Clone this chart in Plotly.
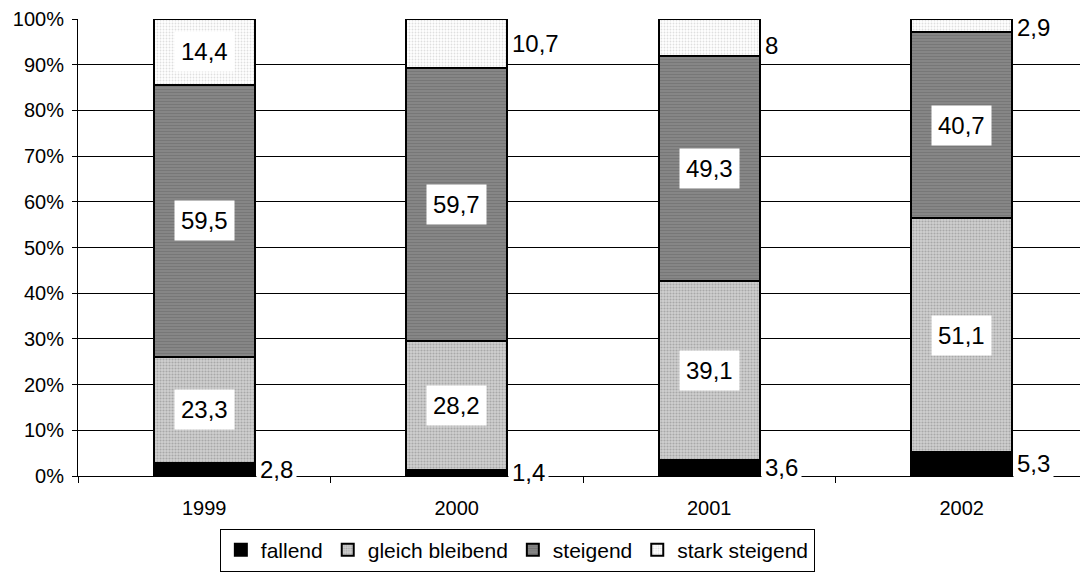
import plotly.graph_objects as go

years = ["1999", "2000", "2001", "2002"]
fallend = [2.8, 1.4, 3.6, 5.3]
gleich = [23.3, 28.2, 39.1, 51.1]
steigend = [59.5, 59.7, 49.3, 40.7]
stark = [14.4, 10.7, 8.0, 2.9]
series_names = ["fallend", "gleich bleibend", "steigend", "stark steigend"]
tick_vals = [0, 10, 20, 30, 40, 50, 60, 70, 80, 90, 100]
tick_text = [f"{v}%" for v in tick_vals]

FONT = "Liberation Sans, Arial, sans-serif"

def fmt(v):
    s = f"{v:.1f}".replace(".", ",")
    if s.endswith(",0"):
        s = s[:-2]
    return s

styles = [
    dict(color="#000000", pattern=None),
    dict(color="#c0c0c0", pattern=dict(shape=".", bgcolor="#d0d0d0", fgcolor="#808080", size=3, solidity=0.4)),
    dict(color="#808080", pattern=dict(shape="-", bgcolor="#888888", fgcolor="#666666", size=3, solidity=0.4)),
    dict(color="#f4f4f4", pattern=dict(shape=".", bgcolor="#ffffff", fgcolor="#c0c0c0", size=3, solidity=0.3)),
]

fig = go.Figure()
data = [fallend, gleich, steigend, stark]
for name, vals, st in zip(series_names, data, styles):
    marker = dict(color=st["color"], line=dict(color="#000000", width=2))
    if st["pattern"]:
        marker["pattern"] = st["pattern"]
    fig.add_trace(go.Bar(x=years, y=vals, name=name, marker=marker))

bar_half = 0.2
annotations = []
placement = [
    ["out", "out", "out", "out"],
    ["in", "in", "in", "in"],
    ["in", "in", "in", "in"],
    ["in", "out", "out", "out"],
]
yshift_out = [
    [0, 0, 0, 0],
    [0, 0, 0, 0],
    [0, 0, 0, 0],
    [0, 0, -8, -2],
]
for si, vals in enumerate(data):
    for ci, v in enumerate(vals):
        base = sum(data[k][ci] for k in range(si))
        yc = base + v / 2
        if placement[si][ci] == "in":
            annotations.append(dict(x=ci, y=yc, xref="x", yref="y", text=fmt(v),
                                    showarrow=False, bgcolor="#ffffff",
                                    font=dict(family=FONT, size=24, color="#000"),
                                    borderpad=6))
        else:
            annotations.append(dict(x=ci + bar_half, y=yc, xref="x", yref="y", text=fmt(v),
                                    showarrow=False, bgcolor="#ffffff", xanchor="left",
                                    yshift=yshift_out[si][ci], xshift=1,
                                    font=dict(family=FONT, size=24, color="#000"),
                                    borderpad=3))

fig.update_layout(
    barmode="stack",
    bargap=0.6,
    width=1080, height=576,
    margin=dict(l=70, r=0, t=11, b=108),
    paper_bgcolor="#ffffff",
    plot_bgcolor="#ffffff",
    font=dict(family=FONT, size=20, color="#000"),
    annotations=annotations,
    legend=dict(
        orientation="h", x=0.435, xanchor="center", y=-0.115, yanchor="top",
        bordercolor="#000000", borderwidth=1, traceorder="normal",
        font=dict(family=FONT, size=21, color="#000"),
        itemwidth=30, tracegroupgap=0,
    ),
    showlegend=True,
)
fig.update_yaxes(range=[0, 100], tickvals=tick_vals, ticktext=tick_text,
                 showgrid=True, gridcolor="#000000", gridwidth=1,
                 showline=True, linecolor="#000000", linewidth=1,
                 ticks="outside", ticklen=5, tickcolor="#000",
                 ticklabelstandoff=4,
                 tickfont=dict(family=FONT, size=20), zeroline=False)
fig.update_xaxes(type="category", showline=True, linecolor="#000000", linewidth=1,
                 ticks="outside", ticklen=6, tickcolor="#000", tickson="boundaries",
                 ticklabelstandoff=14,
                 tickfont=dict(family=FONT, size=20), range=[-0.5, 3.5])

fig.write_html("out.html")
